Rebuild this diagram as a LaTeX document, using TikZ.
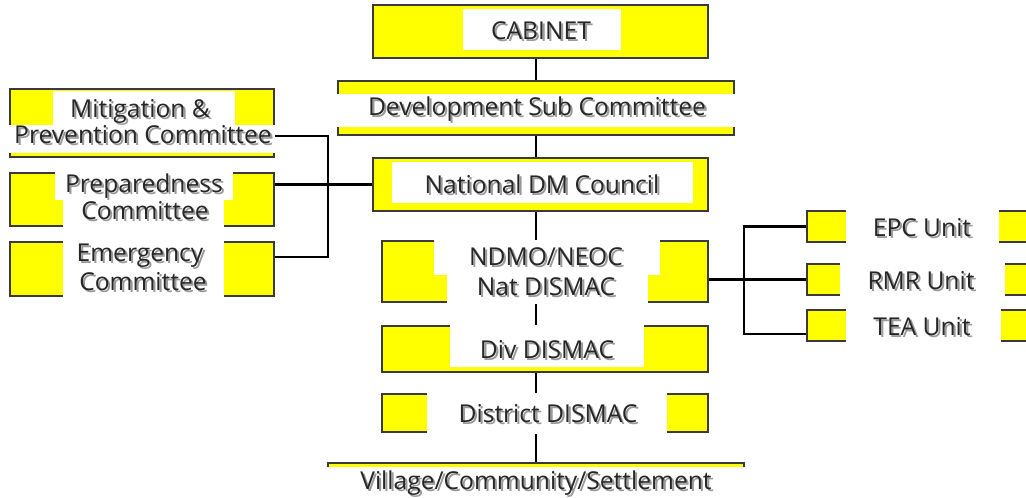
\documentclass[tikz,border=0pt]{standalone}
\usepackage{fontspec}
\setmainfont{Open Sans}
\usepackage{xcolor}
\usepackage{tikz}
\usetikzlibrary{calc,fit}
\definecolor{boxfill}{HTML}{FFFF00}
\definecolor{edge}{HTML}{3A3A3A}
\definecolor{shade}{HTML}{9A9A9A}
\newcommand{\shd}[1]{\leavevmode\rlap{\kern1.5pt\raisebox{-1.5pt}{\color{shade}#1}}#1}
\tikzset{
  ybox/.style={draw=edge, fill=boxfill, line width=1.3pt, inner sep=0pt},
  blank/.style={fill=white, draw=none, inner sep=0pt},
  link/.style={draw=black, line width=1.6pt},
  lab/.style={text=black!85, font=\fontsize{17.5}{20}\selectfont, inner sep=0pt},
}

\begin{document}
\begin{tikzpicture}[x=0.025cm,y=-0.025cm]
  \useasboundingbox (0,0) rectangle (1026,498);
  \clip (0,0) rectangle (1026,498);
  \coordinate (sp) at (536,0);
  \coordinate (lbus) at (328,0);
  \coordinate (rbus) at (744,334);

  % main column
  \node[ybox,fit={(373,5) (708,58)}] (cab) {};
  \node[ybox,fit={(338,81) (734,135)}] (dev) {};
  \node[ybox,fit={(373,158) (708,211)}] (nat) {};
  \node[ybox,fit={(382,241) (708,302)}] (ndmo) {};
  \node[ybox,fit={(382,326) (708,372)}] (div) {};
  \node[ybox,fit={(382,394) (708,432)}] (dist) {};
  \node[ybox,fit={(328,463) (744,530)}] (vil) {};

  % committees
  \node[ybox,fit={(10,89) (274,157)}] (mit) {};
  \node[ybox,fit={(10,173) (274,226)}] (prep) {};
  \node[ybox,fit={(10,242) (274,296)}] (emg) {};

  % units
  \node[ybox,fit={(807,211) (1040,242)}] (epc) {};
  \node[ybox,fit={(807,264) (1040,295)}] (rmr) {};
  \node[ybox,fit={(807,310) (1040,341)}] (tea) {};

  % white label patches
  \node[blank,fit={(463,9) (621,50)}] (cabw) {};
  \node[blank,fit={(336,94) (736,127)}] (devw) {};
  \node[blank,fit={(392,162) (693,203)}] (natw) {};
  \node[blank,fit={(434,239) (660,275)}] (ndmow1) {};
  \node[blank,fit={(447,275) (648,304)}] (ndmow2) {};
  \node[blank,fit={(450,324) (644,367)}] (divw) {};
  \node[blank,fit={(427,392) (667,434)}] (distw) {};
  \node[blank,fit={(326,467) (746,500)}] (vilw) {};
  \node[blank,fit={(53,91) (235,125)}] (mitw1) {};
  \node[blank,fit={(8,125) (276,153)}] (mitw2) {};
  \node[blank,fit={(55,171) (233,200)}] (prepw1) {};
  \node[blank,fit={(63,200) (224,228)}] (prepw2) {};
  \node[blank,fit={(63,240) (224,298)}] (emgw) {};
  \node[blank,fit={(846,209) (999,244)}] (epcw) {};
  \node[blank,fit={(840,262) (1005,297)}] (rmrw) {};
  \node[blank,fit={(846,308) (1001,343)}] (teaw) {};

  % texts
  \node[lab] (cabt) at (541,32) {\shd{CABINET}};
  \node[lab] (devt) at (537,110) {\shd{Development Sub Committee}};
  \node[lab] (natt) at (542,185) {\shd{National DM Council}};
  \node[lab] (ndmoa) at (546,258) {\shd{NDMO/NEOC}};
  \node[lab] (ndmob) at (546,288) {\shd{Nat DISMAC}};
  \node[lab] (divt) at (547,351) {\shd{Div DISMAC}};
  \node[lab] (distt) at (548,415) {\shd{District DISMAC}};
  \node[lab] (vilt) at (536,484) {\shd{Village/Community/Settlement}};
  \node[lab] (mita) at (140,112) {\shd{Mitigation \&}};
  \node[lab] (mitb) at (143,136) {\shd{Prevention Committee}};
  \node[lab] (prepa) at (144,187) {\shd{Preparedness}};
  \node[lab] (prepb) at (145,212) {\shd{Committee}};
  \node[lab] (emga) at (140,257) {\shd{Emergency}};
  \node[lab] (emgb) at (143,283) {\shd{Committee}};
  \node[lab] (epct) at (922,229) {\shd{EPC Unit}};
  \node[lab] (rmrt) at (921,282) {\shd{RMR Unit}};
  \node[lab] (teat) at (922,328) {\shd{TEA Unit}};

  % connectors
  \draw[link] (sp |- cab.south) -- (sp |- dev.north);
  \draw[link] (sp |- dev.south) -- (sp |- nat.north);
  \draw[link] (sp |- nat.south) -- (sp |- ndmo.north);
  \draw[link] (sp |- ndmow2.south) -- (sp |- div.north);
  \draw[link] (sp |- div.south) -- (sp |- dist.north);
  \draw[link] (sp |- distw.south) -- (sp |- vil.north);

  \draw[link] (mit.east |- mitb) -| (lbus |- emga) -- (emg.east |- emga);
  \draw[link] (prep.east |- nat.west) -- (nat.west);

  \draw[link] (ndmo.east |- rmr.west) -- (rmr.west);
  \draw[link] (epc.west) -| (rbus) -- (rbus -| tea.west);
\end{tikzpicture}
\end{document}
